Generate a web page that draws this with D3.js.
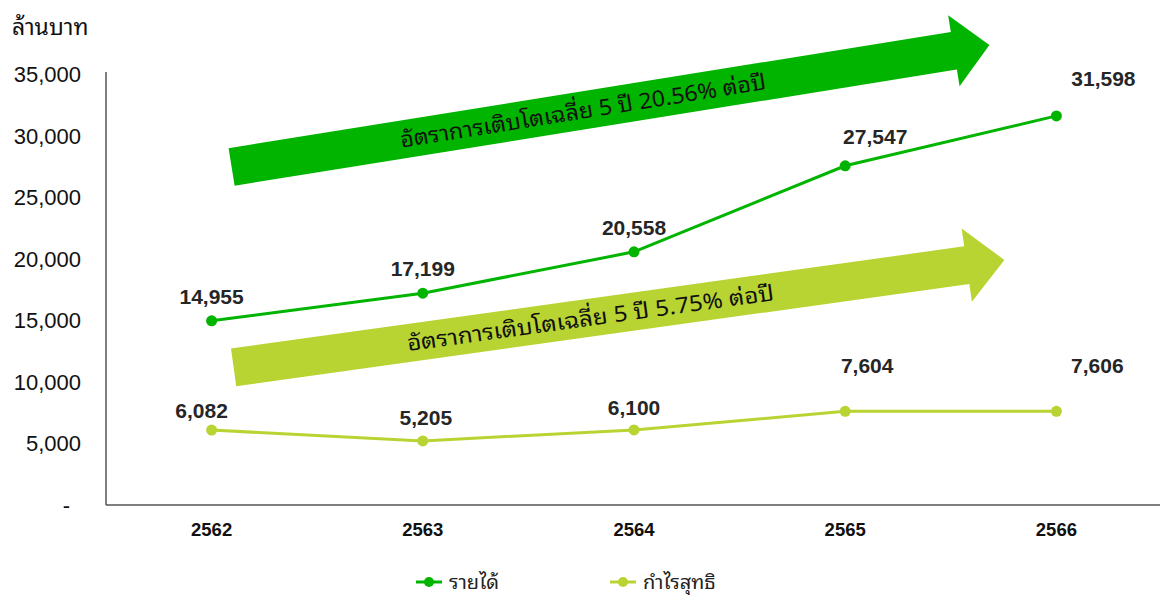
<!DOCTYPE html>
<html>
<head>
<meta charset="utf-8">
<script src="https://cdn.jsdelivr.net/npm/d3@7"></script>
<style>
  body { margin: 0; background: #fff; }
  svg { display: block; }
</style>
</head>
<body>
<div id="chart"></div>
<script>
// data
const years = ["2562", "2563", "2564", "2565", "2566"];
const revenue = [14955, 17199, 20558, 27547, 31598];
const profit = [6082, 5205, 6100, 7604, 7606];
const yTicks = [0, 5000, 10000, 15000, 20000, 25000, 30000, 35000];
const seriesNames = ["รายได้", "กำไรสุทธิ"];
const growthLabels = ["อัตราการเติบโตเฉลี่ย 5 ปี 20.56% ต่อปี", "อัตราการเติบโตเฉลี่ย 5 ปี 5.75% ต่อปี"];

let width = 1160;
let height = 597;
let margin = { top: 74, left: 106, right: -2, bottom: 92 };

let green = "#00b400";
let lime = "#b8d432";
let thaiFont = "Noto Sans Thai Looped, Noto Sans Thai, Noto Sans, sans-serif";

let svg = d3.select("#chart").append("svg")
    .attr("width", width)
    .attr("height", height);

let x = d3.scaleBand()
    .domain(years)
    .range([margin.left, width - margin.right]);

let y = d3.scaleLinear()
    .domain([0, 35000])
    .range([height - margin.bottom, margin.top]);

let cx = d => x(d) + x.bandwidth() / 2;

// axes lines
svg.append("line")
    .attr("x1", margin.left).attr("x2", margin.left)
    .attr("y1", y(35000) - 2).attr("y2", y(0))
    .attr("stroke", "#555").attr("stroke-width", 1.5);
svg.append("line")
    .attr("x1", margin.left).attr("x2", width)
    .attr("y1", y(0)).attr("y2", y(0))
    .attr("stroke", "#555").attr("stroke-width", 1.5);

// y tick labels
svg.selectAll(".ytick")
    .data(yTicks)
    .enter().append("text")
    .attr("class", "ytick")
    .attr("x", d => d === 0 ? 70 : 81)
    .attr("y", d => y(d) + 8)
    .attr("text-anchor", "end")
    .style("font-family", "Liberation Sans, Arial, sans-serif")
    .style("font-size", "22px")
    .attr("fill", "#111")
    .text(d => d === 0 ? "-" : d3.format(",")(d));

// x tick labels
svg.selectAll(".xtick")
    .data(years)
    .enter().append("text")
    .attr("class", "xtick")
    .attr("x", d => cx(d))
    .attr("y", y(0) + 31)
    .attr("text-anchor", "middle")
    .style("font-family", "Liberation Sans, Arial, sans-serif")
    .style("font-size", "18.5px")
    .style("font-weight", "bold")
    .attr("fill", "#111")
    .text(d => d);

// unit title
svg.append("text")
    .attr("x", 12).attr("y", 35)
    .style("font-family", thaiFont)
    .style("font-size", "23px")
    .attr("fill", "#111")
    .text("ล้านบาท");

// growth arrows (annotation), start/tip given in chart units
function arrow(startYear, startOff, startVal, tipYear, tipOff, tipVal, half, headHalf, headLen, color, label) {
    let x0 = cx(startYear) + startOff, y0 = y(startVal);
    let x1 = cx(tipYear) + tipOff, y1 = y(tipVal);
    let len = Math.hypot(x1 - x0, y1 - y0);
    let ang = Math.atan2(y1 - y0, x1 - x0) * 180 / Math.PI;
    let pts = [[0, -half], [len - headLen, -half], [len - headLen, -headHalf], [len, 0],
               [len - headLen, headHalf], [len - headLen, half], [0, half]];
    let g = svg.append("g")
        .attr("transform", "translate(" + x0 + "," + y0 + ") rotate(" + ang + ")");
    g.append("polygon")
        .attr("points", pts.map(p => p.join(",")).join(" "))
        .attr("fill", color);
    g.append("text")
        .attr("x", (len - headLen) / 2 - 10)
        .attr("y", 8)
        .attr("text-anchor", "middle")
        .style("font-family", thaiFont)
        .style("font-size", "22px")
        .attr("textLength", 370)
        .attr("lengthAdjust", "spacingAndGlyphs")
        .attr("fill", "#111")
        .text(label);
}

arrow("2562", 20, 27450, "2566", -67, 37350, 19, 36, 36, green, growthLabels[0]);
arrow("2562", 22, 11180, "2566", -52, 19900, 19, 37, 38, lime, growthLabels[1]);

// lines
let line = d3.line()
    .x((d, i) => cx(years[i]))
    .y(d => y(d));

let series = [
    { name: seriesNames[0], values: revenue, color: green },
    { name: seriesNames[1], values: profit, color: lime }
];

series.forEach(s => {
    svg.append("path")
        .attr("d", line(s.values))
        .attr("fill", "none")
        .attr("stroke", s.color)
        .attr("stroke-width", 3);
    svg.selectAll(null)
        .data(s.values)
        .enter().append("circle")
        .attr("cx", (d, i) => cx(years[i]))
        .attr("cy", d => y(d))
        .attr("r", 5.5)
        .attr("fill", s.color);
});

// value labels
let revOff = [[0, -17], [0, -17], [0, -17], [30, -22], [47, -30]];
let proOff = [[-10, -12], [3, -16], [0, -15], [22, -38], [41, -38]];

function valueLabels(values, offs) {
    svg.selectAll(null)
        .data(values)
        .enter().append("text")
        .attr("x", (d, i) => cx(years[i]) + offs[i][0])
        .attr("y", (d, i) => y(d) + offs[i][1])
        .attr("text-anchor", "middle")
        .style("font-family", "Liberation Sans, Arial, sans-serif")
        .style("font-size", "21px")
        .style("font-weight", "bold")
        .attr("fill", "#262626")
        .text(d => d3.format(",")(d));
}
valueLabels(revenue, revOff);
valueLabels(profit, proOff);

// legend
let legendX = [416, 610];
series.forEach((s, i) => {
    let g = svg.append("g").attr("transform", "translate(" + legendX[i] + ",582)");
    g.append("line").attr("x1", 0).attr("x2", 26).attr("y1", 0).attr("y2", 0)
        .attr("stroke", s.color).attr("stroke-width", 3);
    g.append("circle").attr("cx", 13).attr("cy", 0).attr("r", 5).attr("fill", s.color);
    g.append("text").attr("x", 33).attr("y", 7)
        .style("font-family", thaiFont)
        .style("font-size", "20px")
        .attr("fill", "#222")
        .text(s.name);
});
</script>
</body>
</html>
